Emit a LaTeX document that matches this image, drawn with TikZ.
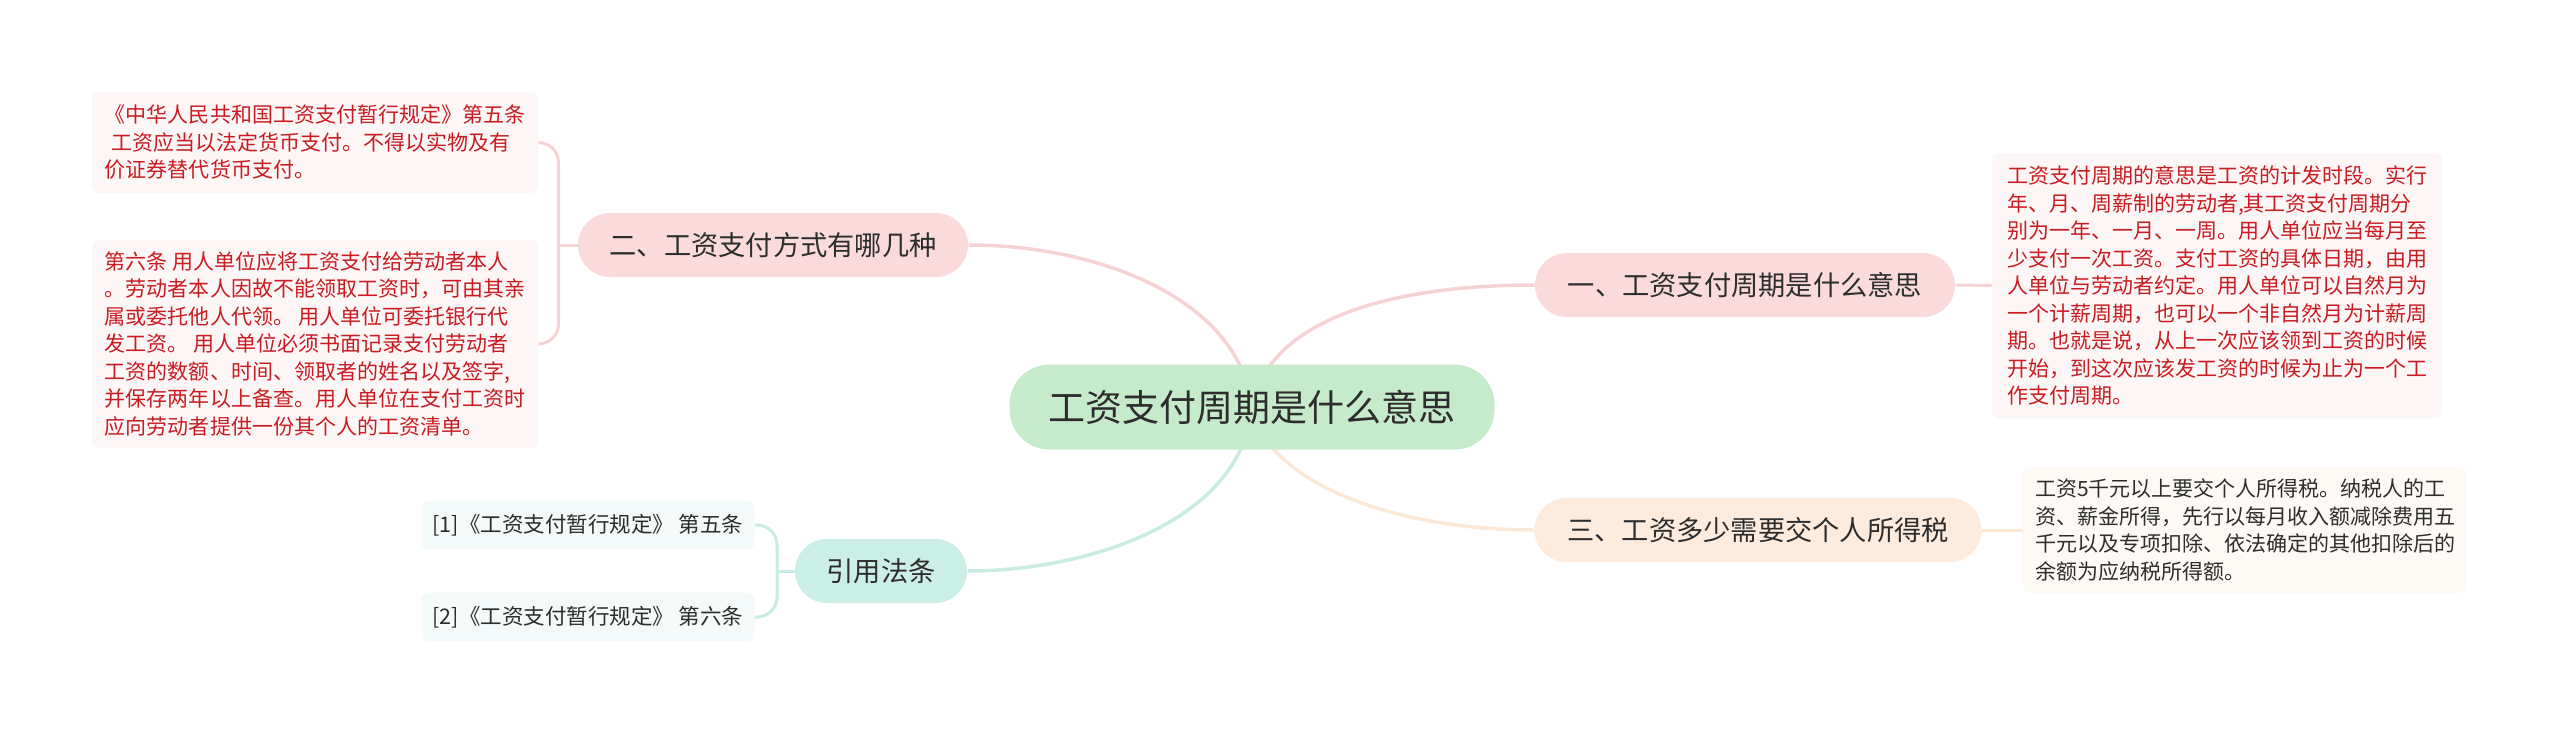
\documentclass[tikz,border=0pt]{standalone}
\usepackage{fontspec}
\setmainfont{Noto Sans CJK SC}
\usetikzlibrary{backgrounds}
\definecolor{rootfill}{RGB}{197,235,203}
\definecolor{pinkfill}{RGB}{250,218,219}
\definecolor{peachfill}{RGB}{253,236,222}
\definecolor{tealfill}{RGB}{203,239,231}
\definecolor{pinkline}{RGB}{246,210,212}
\definecolor{peachline}{RGB}{252,232,214}
\definecolor{tealline}{RGB}{200,236,228}
\definecolor{pinkleaf}{RGB}{253,246,246}
\definecolor{peachleaf}{RGB}{253,250,246}
\definecolor{tealleaf}{RGB}{243,250,249}
\definecolor{redtext}{RGB}{200,28,34}
\definecolor{darktext}{RGB}{45,45,45}
\tikzset{
  rootbox/.style={fill=rootfill, rounded corners=16pt, minimum width=194pt, minimum height=34pt,
    font=\fontsize{14.8}{18}\selectfont, text=darktext, inner sep=0pt},
  lvlbox/.style={rounded corners=12.8pt, minimum height=25.6pt,
    font=\fontsize{10.9}{13}\selectfont, text=darktext, inner sep=0pt},
  leafbox/.style={rounded corners=3pt, align=left, font=\fontsize{8.4}{11}\selectfont,
    inner sep=0pt, text=redtext},
  citebox/.style={rounded corners=3pt, fill=tealleaf, font=\fontsize{8.6}{11}\selectfont,
    inner sep=0pt, text=darktext, minimum width=133.2pt, minimum height=19.6pt},
  mainlink/.style={line width=1.4pt},
  sublink/.style={line width=1.2pt, rounded corners=8pt}
}
\begin{document}
\begin{tikzpicture}[x=0.4pt,y=-0.4pt]
\useasboundingbox (0,0) rectangle (2560,733);

\node[rootbox] (root) at (1252,407) {工资支付周期是什么意思};

\node[lvlbox, fill=pinkfill, minimum width=156pt] (n2) at (773,245) {二、工资支付方式有哪几种};
\node[lvlbox, fill=pinkfill, minimum width=168pt] (n1) at (1745,285) {一、工资支付周期是什么意思};
\node[lvlbox, fill=peachfill, minimum width=178.8pt] (n3) at (1758,530) {三、工资多少需要交个人所得税};
\node[lvlbox, fill=tealfill, minimum width=68.8pt] (nc) at (881,571) {引用法条};

\node[leafbox, fill=pinkleaf, minimum width=178.4pt, minimum height=40.4pt] (l1) at (315,142.5)
  {《中华人民共和国工资支付暂行规定》第五条\\
   \hspace*{0.3em}工资应当以法定货币支付。不得以实物及有\\
   价证券替代货币支付。};
\node[leafbox, fill=pinkleaf, minimum width=178.4pt, minimum height=83.2pt] (l2) at (315,344)
  {第六条 用人单位应将工资支付给劳动者本人\\
   。劳动者本人因故不能领取工资时，可由其亲\\
   属或委托他人代领。 用人单位可委托银行代\\
   发工资。 用人单位必须书面记录支付劳动者\\
   工资的数额、时间、领取者的姓名以及签字,\\
   并保存两年以上备查。用人单位在支付工资时\\
   应向劳动者提供一份其个人的工资清单。};

\node[leafbox, fill=pinkleaf, minimum width=180pt, minimum height=106pt] (r1) at (2217,285.5)
  {工资支付周期的意思是工资的计发时段。实行\\
   年、月、周薪制的劳动者,其工资支付周期分\\
   别为一年、一月、一周。用人单位应当每月至\\
   少支付一次工资。支付工资的具体日期，由用\\
   人单位与劳动者约定。用人单位可以自然月为\\
   一个计薪周期，也可以一个非自然月为计薪周\\
   期。也就是说，从上一次应该领到工资的时候\\
   开始，到这次应该发工资的时候为止为一个工\\
   作支付周期。};

\node[leafbox, fill=peachleaf, text=darktext, minimum width=177.6pt, minimum height=50.4pt] (r2) at (2245,530)
  {工资5千元以上要交个人所得税。纳税人的工\\
   资、薪金所得，先行以每月收入额减除费用五\\
   千元以及专项扣除、依法确定的其他扣除后的\\
   余额为应纳税所得额。};

\node[citebox] (c1) at (588,525) {[1]《工资支付暂行规定》 第五条};
\node[citebox] (c2) at (588,617) {[2]《工资支付暂行规定》 第六条};

\begin{scope}[on background layer]
  \draw[mainlink, pinkline] (root.center) .. controls +(-12,-107) and +(132,0) .. (n2.east);
  \draw[mainlink, pinkline] (root.center) .. controls +(16,-87) and +(-145,0) .. (n1.west);
  \draw[mainlink, tealline] (root.center) .. controls +(-10,113) and +(123,0) .. (nc.east);
  \draw[mainlink, peachline] (root.center) .. controls +(13,73) and +(-145,0) .. (n3.west);

  \draw[sublink, pinkline] (l1.east) -- ++(20,0) |- (l2.east);
  \draw[line width=1.2pt, pinkline] (n2.west) -- ([xshift=8pt]n2.west -| l1.east);
  \draw[line width=1.2pt, pinkline] (n1.east) -- (r1.west);
  \draw[line width=1.2pt, peachline] (n3.east) -- (r2.west);
  \draw[sublink, tealline] (c1.east) -- ++(22,0) |- (c2.east);
  \draw[line width=1.2pt, tealline] (nc.west) -- ([xshift=8.8pt]nc.west -| c1.east);
\end{scope}
\end{tikzpicture}
\end{document}
